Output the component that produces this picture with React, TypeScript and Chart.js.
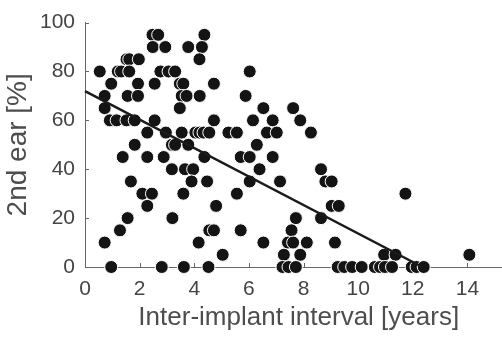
import React, { useEffect, useRef } from 'react';
import { Chart, registerables } from 'chart.js';

Chart.register(...registerables);

// Percent levels (y) and the inter-implant intervals (x, years) of the points on each level
const levels = [95, 90, 85, 80, 75, 70, 65, 60, 55, 50, 45, 40, 35, 30, 25, 20, 15, 10, 5, 0];
const x95 = [2.47, 2.68, 4.37];
const x90 = [2.48, 2.94, 3.78, 4.28];
const x85 = [1.52, 1.62, 1.97, 4.19];
const x80 = [0.54, 1.2, 1.32, 1.62, 2.76, 3.06, 3.3, 6.03];
const x75 = [0.96, 1.94, 2.55, 3.47, 3.6, 4.72];
const x70 = [0.72, 1.56, 1.94, 3.54, 3.72, 4.2, 5.88];
const x65 = [0.72, 3.47, 6.53, 7.62];
const x60 = [0.91, 1.16, 1.52, 1.82, 2.55, 4.72, 6.15, 6.87, 7.88];
const x55 = [2.28, 2.96, 3.54, 4.04, 4.19, 4.34, 4.55, 5.25, 5.56, 6.66, 7.02, 8.27];
const x50 = [1.82, 3.18, 3.3, 3.78, 6.29];
const x45 = [1.38, 2.28, 2.88, 4.37, 5.7, 6.03, 6.87];
const x40 = [3.18, 3.66, 3.96, 6.39, 8.64];
const x35 = [1.68, 3.9, 4.47, 6.03, 7.14, 8.8, 9.03];
const x30 = [2.1, 2.45, 3.6, 5.56, 11.73];
const x25 = [2.28, 4.8, 9.03, 9.29];
const x20 = [1.56, 3.2, 7.72, 8.64];
const x15 = [1.28, 4.55, 4.72, 5.7, 7.56];
const x10 = [0.72, 4.16, 6.53, 7.43, 7.62, 8.12, 9.15];
const x5 = [5.04, 7.28, 7.88, 10.95, 11.37, 14.07];
const x0 = [0.96, 2.81, 3.62, 4.52, 7.23, 7.45, 7.72, 9.25, 9.49, 9.78, 10.13, 10.61, 10.8, 10.98, 11.24, 11.96, 12.14, 12.4];
const xsByLevel = [x95, x90, x85, x80, x75, x70, x65, x60, x55, x50, x45, x40, x35, x30, x25, x20, x15, x10, x5, x0];

// Regression line end points
const fitX = [0, 12.35];
const fitY = [72, 0];

// Axis ranges (the x axis runs on past the right edge of the picture)
const xRange = [0, 15.65];
const yRange = [0, 100];

const xTitle = 'Inter-implant interval [years]';
const yTitle = '2nd ear [%]';

const FONT = "'Liberation Sans', Arial, Helvetica, sans-serif";

const inwardTicks = {
  id: 'inwardTicks',
  beforeDatasetsDraw(chart: any) {
    const ctx = chart.ctx;
    const xs = chart.scales.x;
    const ys = chart.scales.y;
    const area = chart.chartArea;
    ctx.save();
    ctx.strokeStyle = '#666666';
    ctx.lineWidth = 1;
    ctx.beginPath();
    xs.ticks.forEach((t: any) => {
      const px = Math.round(xs.getPixelForValue(t.value)) + 0.5;
      ctx.moveTo(px, area.bottom);
      ctx.lineTo(px, area.bottom - 4);
    });
    ys.ticks.forEach((t: any) => {
      const py = Math.round(ys.getPixelForValue(t.value)) + 0.5;
      ctx.moveTo(area.left, py);
      ctx.lineTo(area.left + 4, py);
    });
    ctx.stroke();
    ctx.restore();
  },
};

export default function App() {
  const ref = useRef<HTMLCanvasElement | null>(null);

  useEffect(() => {
    if (!ref.current) return;
    const points: { x: number; y: number }[] = [];
    levels.forEach((lv, i) => {
      xsByLevel[i].forEach((xv) => points.push({ x: xv, y: lv }));
    });
    const fit = fitX.map((xv, i) => ({ x: xv, y: fitY[i] }));

    const chart = new Chart(ref.current, {
      type: 'scatter',
      data: {
        datasets: [
          {
            data: fit,
            showLine: true,
            borderColor: '#1a1a1a',
            borderWidth: 2.5,
            pointRadius: 0,
            fill: false,
            clip: false,
          } as any,
          {
            data: points,
            backgroundColor: '#141414',
            borderColor: '#ffffff',
            borderWidth: 1,
            pointRadius: 6.5,
            clip: false,
          } as any,
        ],
      },
      options: {
        animation: false,
        responsive: false,
        maintainAspectRatio: false,
        layout: { padding: { top: 20, right: 0, bottom: 0, left: 0 } },
        plugins: {
          legend: { display: false },
          tooltip: { enabled: false },
        },
        scales: {
          x: {
            type: 'linear',
            min: xRange[0],
            max: xRange[1],
            grid: { display: false, drawTicks: false },
            border: { display: true, color: '#666666', width: 1 },
            ticks: {
              stepSize: 2,
              includeBounds: false,
              autoSkip: false,
              maxRotation: 0,
              padding: 10,
              color: '#444444',
              font: { family: FONT, size: 21 },
            },
            title: {
              display: true,
              text: xTitle,
              color: '#4d4d4d',
              font: { family: FONT, size: 26 },
              padding: { top: 0, bottom: 4 },
            },
            afterFit(scale: any) {
              scale.height = 70;
            },
          },
          y: {
            type: 'linear',
            min: yRange[0],
            max: yRange[1],
            grid: { display: false, drawTicks: false },
            border: { display: true, color: '#666666', width: 1 },
            ticks: {
              stepSize: 20,
              padding: 10,
              color: '#444444',
              font: { family: FONT, size: 21 },
            },
            title: {
              display: true,
              text: yTitle,
              color: '#4d4d4d',
              font: { family: FONT, size: 28 },
              padding: { top: 1, bottom: 0 },
            },
            afterFit(scale: any) {
              scale.width = 85;
            },
          },
        },
      },
      plugins: [inwardTicks],
    });
    return () => chart.destroy();
  }, []);

  return (
    <div style={{ position: 'absolute', left: 0, top: 0, width: 502, height: 337, overflow: 'hidden', background: '#ffffff' }}>
      <canvas ref={ref} width={520} height={337} style={{ display: 'block' }} />
    </div>
  );
}
